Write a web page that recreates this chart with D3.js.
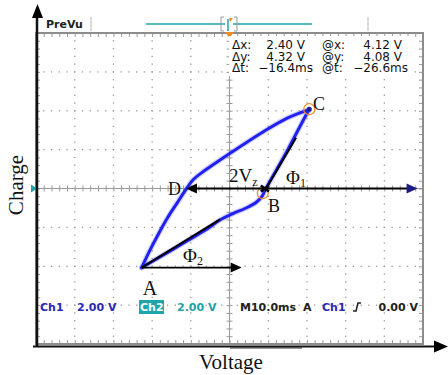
<!DOCTYPE html>
<html>
<head>
<meta charset="utf-8">
<script src="https://cdn.jsdelivr.net/npm/d3@7"></script>
<style>
  html, body { margin: 0; padding: 0; background: #fff; }
  svg { display: block; }
  .scope { font-family: "DejaVu Sans", sans-serif; }
  .serif { font-family: "Liberation Serif", "Times New Roman", serif; }
</style>
</head>
<body>
<svg id="chart" width="448" height="375"></svg>
<script>
// Hysteresis loop (XY mode), voltage on Ch1, charge on Ch2, 2 V/div
const loopLowerV = [-4.54, -3.59, -2.20, -1.16, -0.49, 0.18, 0.80, 1.37, 1.68, 1.83, 2.44, 3.02, 3.64, 4.11];
const loopLowerQ = [-4.07, -3.52, -2.70, -2.08, -1.62, -1.29, -1.03, -0.72, -0.41, -0.10, 0.98, 2.01, 3.19, 4.06];
const loopUpperV = [4.11, 2.96, 1.75, 0.54, -0.49, -1.32, -1.89, -2.25, -2.71, -3.18, -3.70, -4.16, -4.54];
const loopUpperQ = [4.06, 3.61, 2.92, 2.15, 1.47, 0.90, 0.44, -0.05, -0.75, -1.47, -2.39, -3.27, -4.07];

// Labelled points on the loop (volts)
const pointNames = ["A", "B", "C", "D"];
const pointV = [-4.54, 1.83, 4.11, -2.25];
const pointQ = [-4.07, -0.10, 4.06, -0.05];

// Cursor readout
const cursorX = [1.72, 4.12];
const cursorY = [-0.24, 4.08];
const readoutRows = [
  ["\u0394x:", "2.40 V", "@x:", "4.12 V"],
  ["\u0394y:", "4.32 V", "@y:", "4.08 V"],
  ["\u0394t:", "\u221216.4ms", "@t:", "\u221226.6ms"]
];

// Tangent lines for the two slopes
const tangent1End = [3.44, 2.61];
const tangent2End = [-0.49, -1.59];
const arrowRightEnd = 9.72;
const arrowAEnd = 0.63;

const W = 448, H = 375;
const svg = d3.select("#chart");
const x = d3.scaleLinear().domain([-10, 10]).range([36, 423]);
const y = d3.scaleLinear().domain([-8, 8]).range([344, 33]);

const gridGrey = "#9a9a9a";
const blueTxt = "#2a2ab4";
const teal = "#1ea5a8";
const orange = "#f08a24";

svg.append("rect").attr("width", W).attr("height", H).attr("fill", "#fff");

// ---- graticule ----
const majorX = d3.range(-10, 10.01, 2);
const majorY = d3.range(-8, 8.01, 2);
const minorX = d3.range(-10, 10.001, 0.4).map(v => +v.toFixed(2));
const minorY = d3.range(-8, 8.001, 0.4).map(v => +v.toFixed(2));

const dots = svg.append("g").attr("fill", gridGrey);
majorY.filter(v => v !== 0 && Math.abs(v) !== 8).forEach(my => {
  minorX.filter(v => Math.abs(v) < 10).forEach(mx => {
    dots.append("rect").attr("x", x(mx) - 0.6).attr("y", y(my) - 0.6).attr("width", 1.3).attr("height", 1.3);
  });
});
majorX.filter(v => v !== 0 && Math.abs(v) !== 10).forEach(mx => {
  minorY.filter(v => Math.abs(v) < 8).forEach(my => {
    dots.append("rect").attr("x", x(mx) - 0.6).attr("y", y(my) - 0.6).attr("width", 1.3).attr("height", 1.3);
  });
});

function styleAxis(g) {
  g.select(".domain").remove();
  g.selectAll("line").attr("stroke", gridGrey).attr("stroke-width", 1);
}
// centre lines with minor ticks
svg.append("line").attr("x1", x(-10)).attr("x2", x(10)).attr("y1", y(0)).attr("y2", y(0))
  .attr("stroke", gridGrey).attr("stroke-width", 1);
svg.append("line").attr("x1", x(0)).attr("x2", x(0)).attr("y1", y(8)).attr("y2", y(-8))
  .attr("stroke", gridGrey).attr("stroke-width", 1);
svg.append("g").attr("transform", `translate(0,${y(0) + 3})`)
  .call(d3.axisTop(x).tickValues(minorX).tickSize(6).tickSizeOuter(0).tickFormat("")).call(styleAxis);
svg.append("g").attr("transform", `translate(${x(0) - 3},0)`)
  .call(d3.axisRight(y).tickValues(minorY).tickSize(6).tickSizeOuter(0).tickFormat("")).call(styleAxis);

// frame ticks pointing inward
svg.append("g").attr("transform", `translate(0,${y(8)})`)
  .call(d3.axisBottom(x).tickValues(minorX).tickSize(4).tickSizeOuter(0).tickFormat("")).call(styleAxis);
svg.append("g").attr("transform", `translate(0,${y(-8)})`)
  .call(d3.axisTop(x).tickValues(minorX).tickSize(4).tickSizeOuter(0).tickFormat("")).call(styleAxis);
svg.append("g").attr("transform", `translate(${x(-10)},0)`)
  .call(d3.axisRight(y).tickValues(minorY).tickSize(4).tickSizeOuter(0).tickFormat("")).call(styleAxis);
svg.append("g").attr("transform", `translate(${x(10)},0)`)
  .call(d3.axisLeft(y).tickValues(minorY).tickSize(4).tickSizeOuter(0).tickFormat("")).call(styleAxis);

svg.append("rect").attr("x", x(-10)).attr("y", y(8)).attr("width", x(10) - x(-10)).attr("height", y(-8) - y(8))
  .attr("fill", "none").attr("stroke", "#8c8c8c").attr("stroke-width", 2);

// ---- top status bar ----
svg.append("text").attr("class", "scope").attr("x", 46).attr("y", 28).attr("font-weight", "bold")
  .attr("font-size", 11).attr("fill", "#222").text("PreVu");
[91, 368].forEach(px => svg.append("line").attr("x1", px).attr("x2", px).attr("y1", 17).attr("y2", 31)
  .attr("stroke", "#b5b5b5").attr("stroke-width", 1));
svg.append("line").attr("x1", 146).attr("x2", 312).attr("y1", 24).attr("y2", 24)
  .attr("stroke", teal).attr("stroke-width", 1.5);
svg.append("path").attr("d", "M224,17 h-3 v14 h3 M234,17 h3 v14 h-3").attr("fill", "none")
  .attr("stroke", "#999").attr("stroke-width", 1);
svg.append("rect").attr("x", 225).attr("y", 18).attr("width", 8).attr("height", 12).attr("fill", "#fff");
svg.append("line").attr("x1", 228).attr("x2", 228).attr("y1", 19).attr("y2", 31).attr("stroke", teal).attr("stroke-width", 1.5);
svg.append("path").attr("d", "M229,18 l4,0 l-3,4 z").attr("fill", orange);
// trigger position marker
svg.append("path").attr("d", `M${x(0) - 4.5},${y(8) - 1} h9 l-4.5,6 z`).attr("fill", orange);

// ---- cursor readout ----
svg.append("rect").attr("x", 229).attr("y", 36).attr("width", 184).attr("height", 40).attr("fill", "#fff");
const ro = svg.append("g").attr("class", "scope").attr("font-size", 12).attr("fill", "#111");
readoutRows.forEach((r, i) => {
  const by = 49 + i * 11.5;
  ro.append("text").attr("x", 232).attr("y", by).text(r[0]);
  ro.append("text").attr("x", i === 2 ? 313 : 305).attr("y", by).attr("text-anchor", "end").text(r[1]);
  ro.append("text").attr("x", 322).attr("y", by).text(r[2]);
  ro.append("text").attr("x", i === 2 ? 408 : 402).attr("y", by).attr("text-anchor", "end").text(r[3]);
});

// ---- channel marker ----
svg.append("path").attr("d", `M${x(-10) - 5},${y(0) - 4} l6,4 l-6,4 z`).attr("fill", teal);

// ---- hysteresis loop ----
const line = d3.line().x(d => x(d[0])).y(d => y(d[1])).curve(d3.curveCatmullRom.alpha(0.5));
const lower = loopLowerV.map((v, i) => [v, loopLowerQ[i]]);
const upper = loopUpperV.map((v, i) => [v, loopUpperQ[i]]);
[lower, upper].forEach(pts => {
  svg.append("path").attr("d", line(pts)).attr("fill", "none").attr("stroke", "#3a3af5")
    .attr("stroke-width", 5.5).attr("stroke-opacity", 0.22).attr("stroke-linecap", "round");
  svg.append("path").attr("d", line(pts)).attr("fill", "none").attr("stroke", "#2020f0")
    .attr("stroke-width", 3).attr("stroke-linecap", "round").attr("stroke-linejoin", "round");
});

// cursors
cursorX.forEach((cx, i) => {
  svg.append("circle").attr("cx", x(cx)).attr("cy", y(cursorY[i])).attr("r", 5.5)
    .attr("fill", "none").attr("stroke", orange).attr("stroke-width", 1.2);
});
svg.append("circle").attr("cx", x(cursorX[1])).attr("cy", y(cursorY[1])).attr("r", 2.5).attr("fill", "#1d1d9a");

// ---- annotations ----
const ann = svg.append("g").attr("stroke", "#000").attr("stroke-width", 2);
const iA = 0, iB = 1, iD = 3;
ann.append("line").attr("x1", x(pointV[iB])).attr("y1", y(pointQ[iB])).attr("x2", x(tangent1End[0])).attr("y2", y(tangent1End[1]));
ann.append("line").attr("x1", x(pointV[iA])).attr("y1", y(pointQ[iA])).attr("x2", x(tangent2End[0])).attr("y2", y(tangent2End[1]));
// D <-> right edge arrow
ann.append("line").attr("x1", x(pointV[iD]) + 6).attr("y1", y(0)).attr("x2", x(arrowRightEnd) - 6).attr("y2", y(0)).attr("stroke-width", 1.8);
svg.append("path").attr("d", `M${x(pointV[iD])},${y(0)} l11,-5 l0,10 z`).attr("fill", "#000");
svg.append("path").attr("d", `M${x(arrowRightEnd)},${y(0)} l-11,-5 l0,10 z`).attr("fill", "#1c1c86");
svg.append("path").attr("d", `M${x(pointV[iB]) - 4},${y(0) - 3} l4,3 l-4,3 M${x(pointV[iB]) + 4},${y(0) - 3} l-4,3 l4,3`)
  .attr("stroke", "#000").attr("stroke-width", 2.5).attr("fill", "none");
// A -> right arrow
ann.append("line").attr("x1", x(pointV[iA])).attr("y1", y(pointQ[iA])).attr("x2", x(arrowAEnd) - 8).attr("y2", y(pointQ[iA])).attr("stroke-width", 1.8);
svg.append("path").attr("d", `M${x(arrowAEnd)},${y(pointQ[iA])} l-11,-5 l0,10 z`).attr("fill", "#000");

// point labels
const lab = svg.append("g").attr("class", "serif").attr("fill", "#111");
const labelPos = {
  A: [x(pointV[0]) + 1, y(pointQ[0]) + 27, "start", 20],
  B: [x(pointV[1]) + 3, y(pointQ[1]) + 22, "start", 18],
  C: [x(pointV[2]) + 4, y(pointQ[2]) + 0, "start", 18],
  D: [x(pointV[3]) - 5, y(pointQ[3]) + 6, "end", 18]
};
pointNames.forEach(n => {
  const p = labelPos[n];
  lab.append("text").attr("x", p[0]).attr("y", p[1]).attr("text-anchor", p[2]).attr("font-size", p[3]).text(n);
});
const t2v = lab.append("text").attr("x", 229).attr("y", 182).attr("font-size", 19);
t2v.append("tspan").text("2V");
t2v.append("tspan").attr("font-size", 12).attr("dy", 4).text("z");
const p1 = lab.append("text").attr("x", 286).attr("y", 184).attr("font-size", 19);
p1.append("tspan").text("\u03A6");
p1.append("tspan").attr("font-size", 12).attr("dy", 3).text("1");
const p2 = lab.append("text").attr("x", 183).attr("y", 262).attr("font-size", 19);
p2.append("tspan").text("\u03A6");
p2.append("tspan").attr("font-size", 12).attr("dy", 3).text("2");

// ---- bottom status row ----
svg.append("rect").attr("x", 139).attr("y", 300).attr("width", 25).attr("height", 14).attr("fill", teal);
const st = svg.append("g").attr("class", "scope").attr("font-weight", "bold").attr("font-size", 11);
const sy = 311;
st.append("text").attr("x", 40).attr("y", sy).attr("fill", blueTxt).text("Ch1");
st.append("text").attr("x", 77).attr("y", sy).attr("fill", blueTxt).text("2.00 V");
st.append("text").attr("x", 140).attr("y", sy).attr("fill", "#fff").text("Ch2");
st.append("text").attr("x", 177).attr("y", sy).attr("fill", teal).text("2.00 V");
st.append("text").attr("x", 240).attr("y", sy).attr("fill", "#222").text("M10.0ms");
st.append("text").attr("x", 303).attr("y", sy).attr("fill", "#222").text("A");
st.append("text").attr("x", 322).attr("y", sy).attr("fill", blueTxt).text("Ch1");
svg.append("path").attr("d", "M353,311 l3,0 l2,-8 l3,0").attr("fill", "none").attr("stroke", "#222").attr("stroke-width", 1.6);
st.append("text").attr("x", 418).attr("y", sy).attr("text-anchor", "end").attr("fill", "#222").text("0.00 V");

// ---- outer axes with arrows ----
svg.append("rect").attr("x", 230).attr("y", 346).attr("width", 72).attr("height", 3).attr("fill", "#9a9a9a");
svg.append("line").attr("x1", 33).attr("x2", 437).attr("y1", 346.5).attr("y2", 346.5).attr("stroke", "#111").attr("stroke-width", 2.2);
svg.append("path").attr("d", "M448,346.5 l-14,-6 l0,12 z").attr("fill", "#000");
svg.append("line").attr("x1", 37).attr("x2", 37).attr("y1", 347).attr("y2", 14).attr("stroke", "#111").attr("stroke-width", 2.5);
svg.append("path").attr("d", "M37.5,4 l-5.5,14 l11,0 z").attr("fill", "#000");

// axis titles
svg.append("text").attr("class", "serif").attr("x", 231).attr("y", 369).attr("text-anchor", "middle")
  .attr("font-size", 21).attr("fill", "#111").text("Voltage");
svg.append("text").attr("class", "serif").attr("transform", "translate(23,185) rotate(-90)").attr("text-anchor", "middle")
  .attr("font-size", 21).attr("fill", "#111").text("Charge");
</script>
</body>
</html>
